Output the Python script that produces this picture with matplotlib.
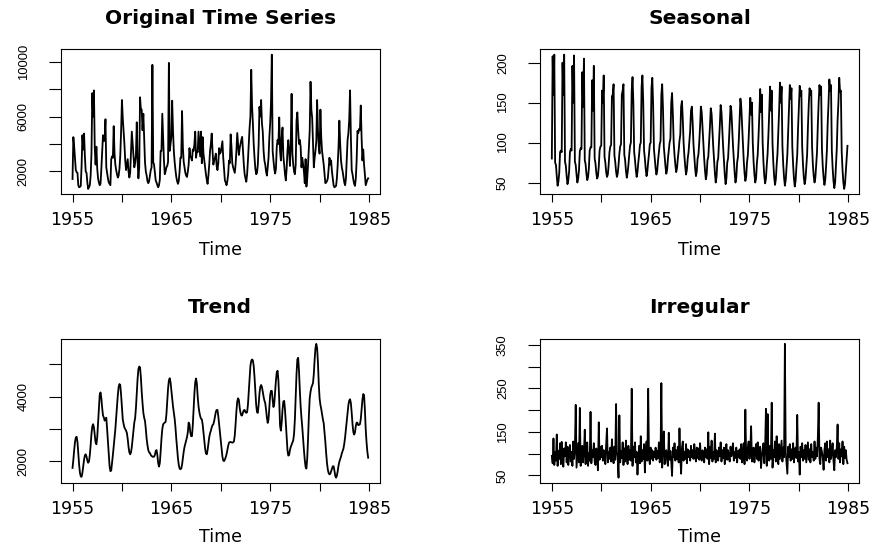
import numpy as np
import matplotlib
matplotlib.use("Agg")
import matplotlib.pyplot as plt
from matplotlib import font_manager as fm

# ---------------- data (monthly, Jan 1955 .. Dec 1984) ----------------
start_year = 1955
freq = 12

original = [
    1450, 4500, 3800, 2900, 2100, 1950, 1900, 1000, 850, 880, 950, 2400,
    4640, 3600, 4760, 3100, 2000, 1900, 1200, 730, 850, 1000, 1700, 3300,
    7700, 6000, 7900, 3700, 2500, 3800, 2200, 1500, 1200, 1000, 1100, 2200,
    3500, 4640, 4200, 4400, 5800, 2300, 1900, 1500, 1200, 1100, 1000, 2900,
    3100, 3000, 5300, 3300, 2500, 2100, 1800, 1560, 1700, 2200, 3200, 4950,
    7200, 5900, 5000, 4000, 2800, 2100, 2500, 2900, 2000, 1560, 1900, 3400,
    4900, 4000, 3200, 2300, 2600, 3200, 5580, 2800, 1500, 2300, 7400, 6500,
    6500, 5000, 6200, 4500, 2670, 2000, 1700, 1300, 1150, 1300, 1700, 2100,
    2300, 9760, 2670, 2500, 1900, 1350, 1200, 1000, 850, 1000, 1400, 3500,
    3500, 6200, 4500, 2800, 1800, 2000, 2300, 2400, 2700, 9900, 3500, 4000,
    4500, 7150, 5000, 3500, 2700, 2100, 1600, 1300, 1100, 1300, 2000, 3000,
    3000, 6400, 3750, 2700, 2300, 1900, 1700, 1600, 2000, 2500, 3700, 3100,
    3000, 2800, 3600, 3500, 4000, 4900, 3000, 3500, 3400, 4900, 4000, 3100,
    4900, 2600, 4500, 3300, 2800, 2300, 1800, 1400, 1100, 1700, 2500, 3500,
    4000, 4760, 3500, 2500, 2800, 3000, 3300, 2400, 2100, 2600, 3700, 3300,
    3400, 3800, 4200, 3000, 2200, 1350, 1200, 1000, 1300, 1800, 2800, 2600,
    4700, 3800, 2600, 2300, 2100, 1900, 2500, 3500, 4800, 4000, 3200, 3700,
    4000, 4300, 4520, 3500, 2500, 1800, 1500, 1250, 1800, 2800, 4000, 5180,
    6000, 9400, 6800, 5500, 4000, 3000, 2200, 1800, 1900, 2500, 4000, 6700,
    6000, 7200, 5500, 4900, 3500, 2800, 2500, 2000, 1700, 2300, 3000, 4500,
    5500, 7000, 10500, 3500, 2800, 2200, 1850, 2200, 3800, 4300, 4000, 5930,
    3500, 2800, 4500, 5200, 3100, 2500, 1800, 1350, 2200, 3500, 4280, 3500,
    2400, 4000, 7650, 3300, 2500, 2000, 1800, 2500, 5700, 6300, 5000, 4000,
    4300, 3800, 2300, 3000, 2500, 2000, 1150, 2900, 900, 1500, 2500, 3800,
    4950, 8530, 6500, 5900, 4000, 2300, 3000, 3500, 4200, 7200, 5000, 3800,
    3300, 6500, 4500, 3500, 3000, 2500, 1800, 1150, 1200, 1300, 1500, 2200,
    3000, 2500, 2800, 2000, 1500, 1000, 850, 900, 950, 1500, 2500, 3800,
    5700, 4000, 2800, 2300, 2000, 1600, 1200, 1000, 1500, 3000, 4300, 4800,
    5800, 7900, 4500, 2100, 1800, 1400, 1100, 950, 1500, 2800, 4950, 4800,
    5100, 5000, 6800, 4500, 2800, 3600, 2500, 1800, 1000, 1200, 1400, 1500,
]

seasonal = [
    80, 208, 160, 210, 75, 72, 58, 46, 51, 62, 88, 90,
    88, 200, 160, 210, 76, 71, 58, 48, 53, 64, 88, 92,
    90, 196, 150, 209, 76, 72, 60, 50, 55, 66, 89, 93,
    92, 188, 145, 205, 78, 73, 61, 53, 57, 68, 90, 94,
    94, 178, 140, 196, 80, 74, 62, 55, 58, 70, 90, 95,
    96, 165, 150, 184, 82, 75, 63, 57, 60, 72, 88, 95,
    97, 158, 160, 173, 84, 76, 64, 57, 61, 72, 86, 95,
    98, 160, 165, 173, 85, 78, 65, 56, 62, 72, 85, 96,
    100, 165, 182, 150, 88, 78, 66, 57, 63, 75, 85, 97,
    100, 170, 184, 150, 90, 80, 67, 58, 64, 76, 86, 98,
    100, 168, 181, 148, 92, 80, 68, 60, 65, 78, 88, 98,
    102, 160, 173, 142, 95, 82, 70, 61, 66, 80, 90, 100,
    105, 150, 162, 135, 100, 84, 72, 63, 68, 80, 90, 102,
    110, 145, 152, 130, 100, 83, 70, 60, 66, 80, 88, 102,
    115, 140, 145, 125, 98, 82, 68, 58, 64, 80, 85, 100,
    120, 145, 138, 118, 96, 80, 65, 54, 60, 78, 82, 100,
    120, 143, 136, 115, 95, 78, 62, 50, 57, 76, 80, 100,
    122, 147, 138, 116, 95, 78, 60, 48, 55, 75, 80, 100,
    124, 146, 140, 118, 96, 78, 62, 50, 56, 75, 82, 102,
    128, 155, 145, 122, 98, 78, 62, 52, 57, 75, 84, 105,
    130, 156, 135, 150, 100, 76, 60, 50, 55, 74, 85, 108,
    135, 167, 138, 160, 100, 75, 58, 49, 55, 72, 86, 110,
    138, 170, 140, 165, 98, 74, 57, 47, 54, 72, 86, 112,
    140, 175, 150, 170, 96, 72, 56, 46, 53, 70, 85, 115,
    142, 172, 155, 168, 95, 72, 55, 45, 52, 70, 85, 118,
    145, 171, 158, 165, 95, 72, 56, 48, 54, 70, 85, 120,
    148, 168, 160, 165, 95, 72, 58, 50, 56, 72, 88, 122,
    150, 172, 160, 170, 92, 70, 56, 47, 53, 70, 90, 125,
    150, 179, 165, 172, 90, 68, 52, 43, 50, 70, 92, 128,
    150, 181, 163, 165, 88, 66, 50, 42, 48, 65, 80, 96,
]

trend = [
    1800, 2050, 2350, 2600, 2740, 2760, 2600, 2250, 1900, 1650, 1540, 1525,
    1650, 1850, 2050, 2190, 2220, 2150, 2030, 1960, 2000, 2200, 2500, 2850,
    3080, 3150, 3050, 2800, 2580, 2530, 2750, 3200, 3700, 4050, 4130, 3950,
    3650, 3420, 3360, 3260, 3300, 3350, 3000, 2600, 2200, 1850, 1700, 1720,
    1950, 2200, 2480, 2730, 3000, 3350, 3700, 4050, 4300, 4390, 4350, 4050,
    3650, 3300, 3160, 3050, 3000, 2950, 2880, 2700, 2450, 2280, 2220, 2280,
    2450, 2700, 2950, 3200, 3330, 3650, 4100, 4550, 4850, 4930, 4900, 4600,
    4150, 3800, 3500, 3350, 3250, 3000, 2700, 2500, 2350, 2280, 2260, 2200,
    2170, 2150, 2140, 2150, 2200, 2320, 2350, 2200, 1950, 1840, 1950, 2300,
    2700, 3000, 3140, 3180, 3200, 3220, 3450, 3850, 4250, 4500, 4570, 4450,
    4200, 3950, 3700, 3500, 3320, 3050, 2700, 2400, 2100, 1900, 1780, 1760,
    1780, 1900, 2100, 2300, 2450, 2550, 2650, 2750, 2900, 3200, 3150, 2900,
    2780, 2780, 3100, 3600, 4100, 4450, 4560, 4400, 4000, 3700, 3520, 3400,
    3320, 3300, 3150, 2900, 2650, 2400, 2250, 2220, 2350, 2550, 2750, 2870,
    2950, 3050, 3120, 3150, 3250, 3400, 3530, 3590, 3590, 3400, 3150, 2900,
    2650, 2400, 2150, 2030, 2010, 2060, 2130, 2220, 2350, 2480, 2580, 2600,
    2600, 2590, 2580, 2590, 2620, 2800, 3150, 3550, 3850, 3950, 3900, 3650,
    3500, 3420, 3420, 3520, 3580, 3590, 3520, 3500, 3520, 3750, 4150, 4600,
    4950, 5100, 5150, 5120, 4950, 4600, 4150, 3750, 3520, 3500, 3750, 4100,
    4300, 4360, 4300, 4150, 4000, 3880, 3800, 3600, 3350, 3190, 3300, 3700,
    4050, 4180, 4180, 3900, 3680, 3800, 4150, 4500, 4750, 4800, 4500, 3900,
    3100, 2950, 3200, 3600, 3850, 3870, 3600, 3200, 2750, 2350, 2180, 2200,
    2350, 2450, 2520, 2580, 2650, 2850, 3300, 4000, 4700, 5150, 5200, 4800,
    4200, 3700, 3350, 3050, 2700, 2350, 2050, 1830, 1780, 2100, 2700, 3400,
    3950, 4150, 4280, 4350, 4420, 4700, 5150, 5500, 5630, 5500, 5050, 4400,
    3950, 3750, 3620, 3450, 3300, 3180, 2900, 2600, 2250, 1950, 1750, 1640,
    1600, 1620, 1700, 1790, 1850, 1850, 1720, 1560, 1500, 1560, 1700, 1870,
    1990, 2070, 2150, 2250, 2330, 2400, 2550, 2750, 3000, 3250, 3500, 3750,
    3880, 3920, 3800, 3500, 3150, 2900, 2830, 2900, 3100, 3200, 3190, 3120,
    3130, 3150, 3300, 3600, 3900, 4080, 4050, 3600, 3000, 2600, 2300, 2114,
]

irregular = [
    95, 78, 135, 74, 104, 84, 144, 72, 106, 88, 124, 76,
    127, 86, 70, 112, 94, 126, 80, 116, 74, 100, 120, 82,
    104, 72, 128, 88, 112, 212, 68, 98, 124, 80, 205, 72,
    92, 118, 80, 104, 155, 76, 110, 126, 72, 102, 84, 196,
    78, 108, 92, 124, 82, 74, 112, 90, 62, 172, 86, 116,
    92, 118, 84, 108, 86, 76, 122, 158, 80, 104, 88, 114,
    82, 133, 92, 78, 116, 86, 214, 104, 88, 45, 188, 80,
    106, 90, 126, 74, 112, 82, 130, 92, 76, 118, 86, 108,
    84, 249, 72, 116, 92, 126, 80, 104, 52, 90, 118, 78,
    140, 82, 108, 88, 122, 57, 104, 128, 84, 249, 92, 76,
    114, 88, 108, 84, 104, 92, 114, 86, 106, 90, 126, 80,
    94, 262, 68, 116, 151, 76, 100, 108, 84, 72, 148, 86,
    106, 82, 49, 114, 92, 124, 84, 108, 88, 116, 80, 158,
    92, 54, 114, 128, 84, 104, 88, 122, 78, 110, 92, 106,
    84, 118, 92, 108, 88, 122, 96, 82, 114, 90, 112, 86,
    124, 92, 84, 108, 96, 80, 114, 92, 110, 88, 149, 76,
    116, 90, 130, 82, 104, 88, 146, 80, 108, 92, 84, 114,
    94, 126, 82, 108, 90, 114, 76, 104, 122, 86, 108, 92,
    82, 116, 94, 108, 124, 84, 104, 90, 114, 80, 106, 92,
    110, 88, 122, 80, 104, 124, 76, 201, 92, 84, 114, 128,
    88, 108, 163, 82, 102, 114, 80, 104, 122, 88, 126, 84,
    104, 116, 67, 92, 110, 124, 78, 114, 203, 72, 191, 94,
    84, 118, 88, 217, 68, 108, 92, 128, 82, 140, 96, 76,
    122, 88, 108, 130, 82, 114, 92, 352, 104, 80, 54, 116,
    92, 122, 84, 110, 88, 124, 80, 106, 114, 90, 189, 82,
    104, 52, 116, 92, 124, 84, 108, 88, 120, 80, 104, 126,
    86, 110, 80, 122, 92, 104, 84, 128, 88, 114, 94, 136,
    217, 88, 76, 114, 104, 92, 63, 108, 124, 84, 128, 92,
    110, 80, 130, 88, 104, 124, 84, 62, 108, 92, 114, 167,
    88, 124, 80, 110, 94, 128, 76, 116, 90, 108, 86, 78,
]

titles = ["Original Time Series", "Seasonal", "Trend", "Irregular"]
x_label = "Time"
x_ticks = [1955, 1960, 1965, 1970, 1975, 1980, 1985]
x_ticklabels = ["1955", "", "1965", "", "1975", "", "1985"]

orig_yticks = [2000, 4000, 6000, 8000, 10000]
orig_ylabels = ["2000", "", "6000", "", "10000"]
seas_yticks = [50, 100, 150, 200]
seas_ylabels = ["50", "100", "150", "200"]
trend_yticks = [2000, 3000, 4000, 5000]
trend_ylabels = ["2000", "", "4000", ""]
irr_yticks = [50, 100, 150, 200, 250, 300, 350]
irr_ylabels = ["50", "", "150", "", "250", "", "350"]

# ---------------- fonts ----------------
installed = {f.name for f in fm.fontManager.ttflist}
if "Liberation Sans Narrow" in installed:
    yfam, ysize, ypad = "Liberation Sans Narrow", 11.0, 12.6
else:
    yfam, ysize, ypad = "Liberation Sans", 9.4, 13.4
hfam = "DejaVu Sans"

# ---------------- figure ----------------
W, H = 872, 546
fig = plt.figure(figsize=(W / 100, H / 100), dpi=100)

def box(left, top, right, bottom):
    return [left / W, 1 - bottom / H, (right - left) / W, (bottom - top) / H]

panels = [
    (box(60.7, 49.3, 380, 194.3), original, titles[0], orig_yticks, orig_ylabels, -0.419),
    (box(540, 49.3, 859.3, 194.3), seasonal, titles[1], seas_yticks, seas_ylabels, -0.419),
    (box(60.7, 338.5, 380, 483), trend, titles[2], trend_yticks, trend_ylabels, -0.409),
    (box(540, 338.5, 859.3, 483), irregular, titles[3], irr_yticks, irr_ylabels, -0.409),
]

for rect, series, title, yt, yl, xl_y in panels:
    ax = fig.add_axes(rect)
    vals = np.asarray(series, dtype=float)
    t = start_year + np.arange(len(vals)) / freq
    ax.plot(t, vals, color="black", lw=1.3)
    ax.margins(x=0.04, y=0.04)
    for s in ax.spines.values():
        s.set_linewidth(0.8)
        s.set_color("black")
    ax.set_xticks(x_ticks, x_ticklabels, fontfamily=hfam, fontsize=12.5)
    ax.set_yticks(yt, yl, fontfamily=yfam, fontsize=ysize, rotation=90, va="center")
    ax.tick_params(axis="x", direction="out", length=5.5, width=0.8, pad=6.5, colors="black")
    ax.tick_params(axis="y", direction="out", length=9, width=0.8, pad=ypad, colors="black")
    ax.set_title(title, fontfamily=hfam, fontweight="bold", fontsize=14.5, pad=18.5)
    ax.set_xlabel(x_label, fontfamily=hfam, fontsize=12.5)
    ax.xaxis.label.set_va("baseline")
    ax.xaxis.set_label_coords(0.5, xl_y)

fig.savefig("out.png", dpi=100)
